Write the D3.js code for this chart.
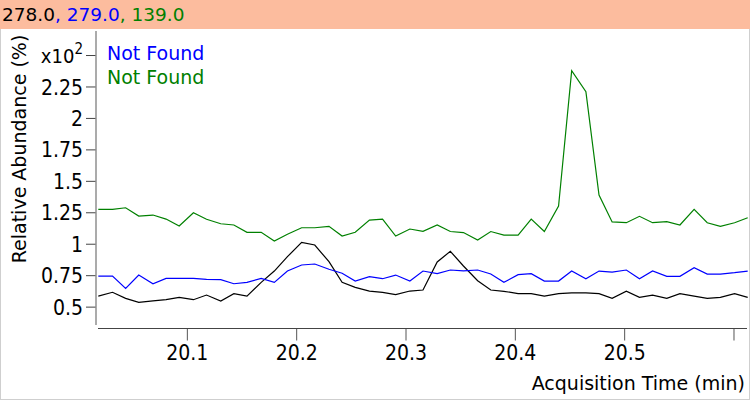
<!DOCTYPE html>
<html>
<head>
<meta charset="utf-8">
<script src="https://cdn.jsdelivr.net/npm/d3@7"></script>
<style>
  html, body { margin: 0; padding: 0; background: #fff; }
  svg { display: block; font-family: "DejaVu Sans", Verdana, sans-serif; }
  .tickfont { font-family: "DejaVu Sans Condensed", "DejaVu Sans", sans-serif; font-stretch: condensed; }
</style>
</head>
<body>
<svg id="chart" width="755" height="403"></svg>
<script>
// Acquisition times (min) of each scan
const times = [
  20.019, 20.032, 20.044, 20.056, 20.069, 20.081, 20.093, 20.106, 20.118, 20.131,
  20.143, 20.155, 20.168, 20.180, 20.192, 20.205, 20.217, 20.230, 20.242, 20.254,
  20.267, 20.279, 20.291, 20.304, 20.316, 20.329, 20.341, 20.353, 20.366, 20.378,
  20.390, 20.403, 20.415, 20.427, 20.440, 20.452, 20.465, 20.477, 20.489, 20.502,
  20.514, 20.526, 20.539, 20.551, 20.564, 20.576, 20.588, 20.601, 20.613
];

// Relative abundance (x10^2 %) for m/z 278.0
const ion278 = [
  0.584, 0.614, 0.566, 0.534, 0.545, 0.555, 0.574, 0.555, 0.592, 0.545,
  0.603, 0.584, 0.693, 0.783, 0.897, 1.011, 0.990, 0.857, 0.693, 0.653,
  0.624, 0.614, 0.595, 0.624, 0.632, 0.855, 0.940, 0.823, 0.706, 0.632,
  0.622, 0.604, 0.603, 0.584, 0.603, 0.610, 0.610, 0.603, 0.566, 0.622,
  0.574, 0.592, 0.566, 0.603, 0.584, 0.566, 0.574, 0.603, 0.574
];

// Relative abundance (x10^2 %) for m/z 279.0
const ion279 = [
  0.743, 0.743, 0.645, 0.751, 0.682, 0.725, 0.725, 0.725, 0.717, 0.714,
  0.682, 0.693, 0.725, 0.693, 0.783, 0.831, 0.839, 0.797, 0.765, 0.703,
  0.738, 0.722, 0.751, 0.703, 0.783, 0.762, 0.791, 0.785, 0.791, 0.759,
  0.693, 0.754, 0.762, 0.703, 0.703, 0.783, 0.722, 0.783, 0.775, 0.791,
  0.722, 0.783, 0.741, 0.741, 0.809, 0.759, 0.759, 0.770, 0.783
];

// Relative abundance (x10^2 %) for m/z 139.0
const ion139 = [
  1.273, 1.273, 1.286, 1.220, 1.228, 1.196, 1.141, 1.246, 1.195, 1.159,
  1.149, 1.091, 1.091, 1.021, 1.075, 1.127, 1.127, 1.138, 1.061, 1.091,
  1.188, 1.196, 1.061, 1.117, 1.099, 1.149, 1.097, 1.089, 1.029, 1.097,
  1.069, 1.069, 1.196, 1.097, 1.300, 2.375, 2.208, 1.387, 1.173, 1.167,
  1.218, 1.167, 1.176, 1.149, 1.273, 1.167, 1.138, 1.167, 1.207
];

const headerParts = ["278.0", ", 279.0", ", 139.0"];
const seriesColors = ["#000000", "#0000ff", "#008000"];
const legendLabels = ["Not Found", "Not Found"];
const legendColors = ["#0000ff", "#008000"];

const yTickValues = [0.5, 0.75, 1, 1.25, 1.5, 1.75, 2, 2.25, 2.5];
const yTickLabels = ["0.5", "0.75", "1", "1.25", "1.5", "1.75", "2", "2.25", "x10"];
const xTickValues = [20.1, 20.2, 20.3, 20.4, 20.5, 20.6];
const xTickLabels = ["20.1", "20.2", "20.3", "20.4", "20.5", ""];

const yTitle = "Relative Abundance (%)";
const xTitle = "Acquisition Time (min)";

const svg = d3.select("#chart");

// outer frame
svg.append("rect")
  .attr("x", 0.5).attr("y", 0.5)
  .attr("width", 749).attr("height", 399)
  .attr("fill", "#fff").attr("stroke", "#cfcfcf");

// title band
svg.append("rect")
  .attr("x", 0).attr("y", 0)
  .attr("width", 750).attr("height", 29)
  .attr("fill", "#fcbc9e");

const header = svg.append("text")
  .attr("x", 2).attr("y", 21)
  .attr("font-size", 18.5);
headerParts.forEach((p, i) => {
  header.append("tspan").attr("fill", seriesColors[i]).text(p);
});

// plot geometry
const plotLeft = 96, plotRight = 748, plotTop = 31, plotBottom = 325;

const x = d3.scaleLinear()
  .domain([times[0], times[times.length - 1]])
  .range([98.3, 747.7]);

const y = d3.scaleLinear()
  .domain([0.354, 2.691])
  .range([plotBottom, plotTop]);

// y axis
const yAxis = d3.axisLeft(y)
  .tickValues(yTickValues)
  .tickSize(10)
  .tickPadding(3)
  .tickFormat((d, i) => yTickLabels[i]);

const gy = svg.append("g")
  .attr("transform", `translate(${plotLeft},0)`)
  .call(yAxis);
gy.select(".domain").remove();
gy.selectAll(".tick line").attr("stroke", "#444").attr("stroke-width", 1);
gy.selectAll(".tick text")
  .attr("class", "tickfont")
  .attr("font-size", 21)
  .attr("font-family", null)
  .attr("fill", "#000")
  .attr("dy", "0.36em");
// superscript exponent on the multiplier label
gy.selectAll(".tick text").filter((d, i) => i === yTickValues.length - 1)
  .attr("font-size", 20)
  .append("tspan")
  .attr("dy", "-0.55em")
  .attr("font-size", 15)
  .text("2");

svg.append("line")
  .attr("x1", plotLeft).attr("x2", plotLeft)
  .attr("y1", plotTop).attr("y2", plotBottom)
  .attr("stroke", "#8f8f8f").attr("stroke-width", 1.5);

// x axis
const xAxis = d3.axisBottom(x)
  .tickValues(xTickValues)
  .tickSize(12)
  .tickPadding(5)
  .tickFormat((d, i) => xTickLabels[i]);

const gx = svg.append("g")
  .attr("transform", "translate(0,328.5)")
  .call(xAxis);
gx.select(".domain").remove();
gx.selectAll(".tick line").attr("stroke", "#555").attr("stroke-width", 1);
gx.selectAll(".tick text")
  .attr("class", "tickfont")
  .attr("font-size", 21)
  .attr("font-family", null)
  .attr("fill", "#000");

svg.append("line")
  .attr("x1", 98).attr("x2", 747)
  .attr("y1", 328.5).attr("y2", 328.5)
  .attr("stroke", "#444").attr("stroke-width", 1);

// axis titles
svg.append("text")
  .attr("transform", "translate(26,149) rotate(-90)")
  .attr("text-anchor", "middle")
  .attr("font-size", 19)
  .attr("fill", "#000")
  .text(yTitle);

svg.append("text")
  .attr("x", 745).attr("y", 390)
  .attr("text-anchor", "end")
  .attr("font-size", 19)
  .attr("fill", "#000")
  .text(xTitle);

// traces
const line = d3.line()
  .x((d, i) => x(times[i]))
  .y(d => y(d));

[ion278, ion279, ion139].forEach((vals, k) => {
  svg.append("path")
    .datum(vals)
    .attr("d", line)
    .attr("fill", "none")
    .attr("stroke", seriesColors[k])
    .attr("stroke-width", 1.2)
    .attr("stroke-linejoin", "miter");
});

// legend
legendLabels.forEach((lab, i) => {
  svg.append("text")
    .attr("x", 107).attr("y", 60 + i * 24)
    .attr("font-size", 19)
    .attr("fill", legendColors[i])
    .text(lab);
});
</script>
</body>
</html>
